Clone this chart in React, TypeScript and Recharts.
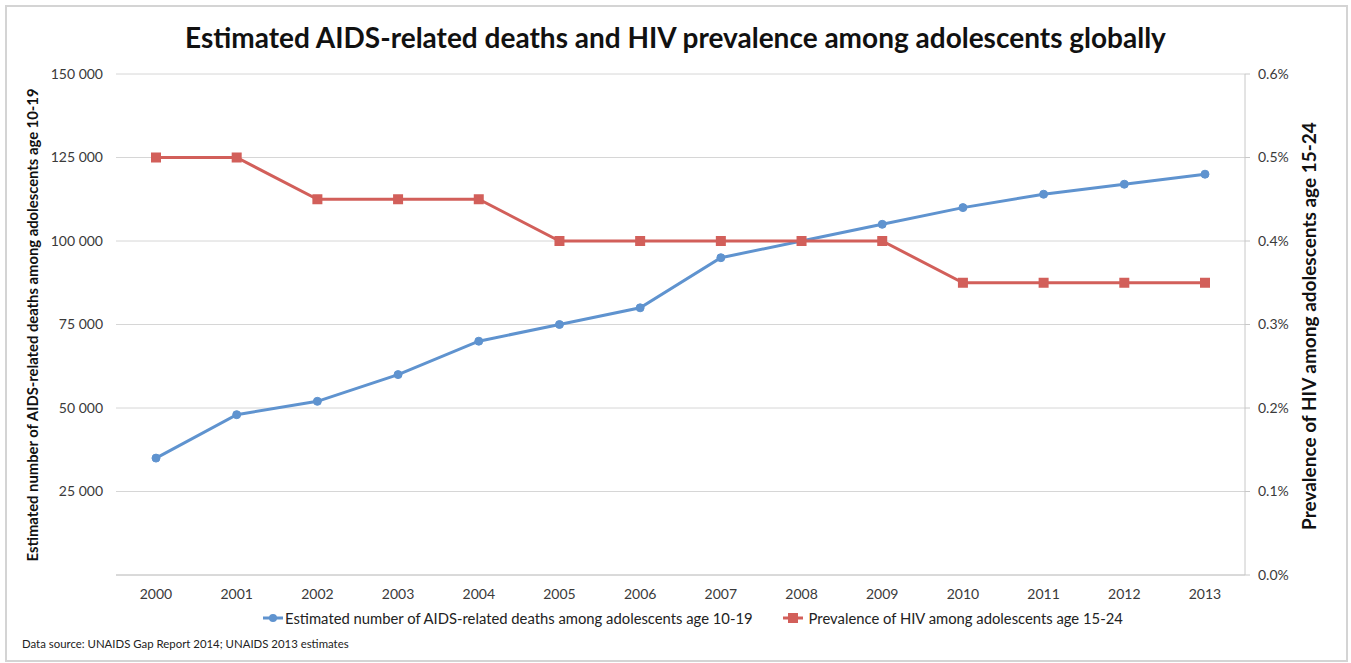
import React from "react";
import {
  LineChart,
  Line,
  XAxis,
  YAxis,
  CartesianGrid,
} from "recharts";

const years = ["2000", "2001", "2002", "2003", "2004", "2005", "2006", "2007", "2008", "2009", "2010", "2011", "2012", "2013"];
const deaths = [35000, 48000, 52000, 60000, 70000, 75000, 80000, 95000, 100000, 105000, 110000, 114000, 117000, 120000];
const prevalence = [0.5, 0.5, 0.45, 0.45, 0.45, 0.4, 0.4, 0.4, 0.4, 0.4, 0.35, 0.35, 0.35, 0.35];
const deathTicks = [25000, 50000, 75000, 100000, 125000, 150000];
const prevTicks = [0, 0.1, 0.2, 0.3, 0.4, 0.5, 0.6];

const data = years.map((year, i) => ({ year, deaths: deaths[i], prevalence: prevalence[i] }));

const BLUE = "#5f93cf";
const RED = "#d25f5a";
const FONT = "Lato, 'Open Sans', sans-serif";
const tickStyle = { fontSize: 14, fill: "#3a3a3a", fontFamily: FONT };

const fmtThousands = (v: number) => String(v).replace(/\B(?=(\d{3})+(?!\d))/g, " ");

function SquareDot({ cx, cy }: any) {
  if (cx == null || cy == null) return null;
  return <rect x={cx - 5} y={cy - 5} width={10} height={10} fill={RED} />;
}

export default function App() {
  return (
    <div
      style={{
        position: "absolute",
        left: 0,
        top: 0,
        width: 1351,
        height: 663,
        background: "#fff",
        fontFamily: FONT,
      }}
    >
      <div
        style={{
          position: "absolute",
          left: 5,
          top: 5,
          width: 1339,
          height: 653,
          border: "2px solid #d4d4d4",
        }}
      />
      <div
        style={{
          position: "absolute",
          left: 0,
          width: 1351,
          top: 20,
          textAlign: "center",
          fontSize: 28,
          fontWeight: 700,
          color: "#111",
        }}
      >
        Estimated AIDS-related deaths and HIV prevalence among adolescents globally
      </div>

      <div style={{ position: "absolute", left: 0, top: 0 }}>
        <LineChart
          width={1351}
          height={663}
          data={data}
          margin={{ top: 74, left: 56, right: 46, bottom: 58 }}
        >
          <CartesianGrid vertical={false} stroke="#d6d6d6" yAxisId="left" />
          <XAxis
            dataKey="year"
            tick={tickStyle}
            tickLine={false}
            axisLine={{ stroke: "#c8c8c8" }}
            tickMargin={8}
            height={30}
            padding={{ left: 40, right: 40 }}
          />
          <YAxis
            yAxisId="left"
            orientation="left"
            domain={[0, 150000]}
            ticks={deathTicks}
            tickFormatter={fmtThousands}
            tick={tickStyle}
            axisLine={false}
            tickLine={false}
            tickSize={0}
            tickMargin={13}
            width={60}
          />
          <YAxis
            yAxisId="right"
            orientation="right"
            domain={[0, 0.6]}
            ticks={prevTicks}
            tickFormatter={(v: number) => `${v.toFixed(1)}%`}
            tick={tickStyle}
            axisLine={{ stroke: "#c8c8c8" }}
            tickLine={{ stroke: "#c8c8c8" }}
            tickSize={5}
            tickMargin={8}
            width={60}
          />
          <Line
            yAxisId="left"
            dataKey="deaths"
            stroke={BLUE}
            strokeWidth={3}
            dot={{ r: 4, fill: BLUE, stroke: BLUE, strokeWidth: 1 }}
            isAnimationActive={false}
          />
          <Line
            yAxisId="right"
            dataKey="prevalence"
            stroke={RED}
            strokeWidth={3}
            dot={<SquareDot />}
            isAnimationActive={false}
          />
        </LineChart>
      </div>

      <div
        style={{
          position: "absolute",
          left: 32,
          top: 325,
          transform: "translate(-50%, -50%) rotate(-90deg)",
          whiteSpace: "nowrap",
          fontSize: 14.8,
          fontWeight: 700,
          color: "#111",
        }}
      >
        Estimated number of AIDS-related deaths among adolescents age 10-19
      </div>
      <div
        style={{
          position: "absolute",
          left: 1308,
          top: 326,
          transform: "translate(-50%, -50%) rotate(-90deg)",
          whiteSpace: "nowrap",
          fontSize: 19,
          fontWeight: 700,
          color: "#111",
        }}
      >
        Prevalence of HIV among adolescents age 15-24
      </div>

      <div
        style={{
          position: "absolute",
          left: 263,
          top: 609,
          display: "flex",
          alignItems: "center",
          fontSize: 14.8,
          color: "#222",
          whiteSpace: "nowrap",
        }}
      >
        <svg width={20} height={12} style={{ marginRight: 2 }}>
          <line x1={0} y1={6} x2={20} y2={6} stroke={BLUE} strokeWidth={3} />
          <circle cx={10} cy={6} r={4} fill={BLUE} />
        </svg>
        <span>Estimated number of AIDS-related deaths among adolescents age 10-19</span>
        <svg width={20} height={12} style={{ marginLeft: 30, marginRight: 6 }}>
          <line x1={0} y1={6} x2={20} y2={6} stroke={RED} strokeWidth={3} />
          <rect x={5} y={1} width={10} height={10} fill={RED} />
        </svg>
        <span>Prevalence of HIV among adolescents age 15-24</span>
      </div>

      <div
        style={{
          position: "absolute",
          left: 22,
          top: 637,
          fontSize: 11.4,
          color: "#222",
        }}
      >
        Data source: UNAIDS Gap Report 2014; UNAIDS 2013 estimates
      </div>
    </div>
  );
}
